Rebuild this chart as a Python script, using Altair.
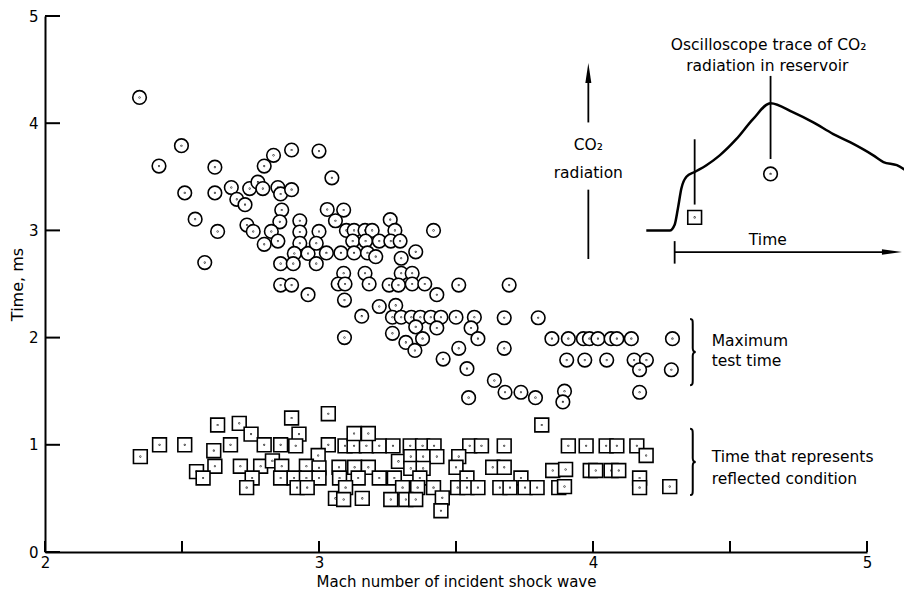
import altair as alt
import pandas as pd

FONT = "DejaVu Sans"

# ---------------- data ----------------
circle_x = [2.345, 2.498, 2.416, 2.51, 2.62, 2.62, 2.548, 2.63, 2.583, 2.68,
            2.70, 2.73, 2.747, 2.777, 2.795, 2.80, 2.834, 2.90, 2.85, 2.86,
            2.90, 2.737, 2.76, 2.864, 2.857, 2.826, 2.80, 2.85, 2.93, 2.93,
            3.0, 2.93, 2.91, 2.96, 2.99, 2.86, 2.906, 2.99, 2.86, 2.90,
            2.96, 3.0, 3.047, 3.03, 3.09, 3.06, 3.10, 3.128, 3.168, 3.194,
            3.26, 3.277, 3.418, 3.123, 3.17, 3.22, 3.262, 3.296, 3.027, 3.08,
            3.128, 3.177, 3.207, 3.353, 3.30, 3.09, 3.168, 3.30, 3.34, 3.07,
            3.095, 3.183, 3.256, 3.29, 3.34, 3.386, 3.51, 3.093, 3.43, 3.22,
            3.28, 3.156, 3.268, 3.30, 3.337, 3.37, 3.408, 3.445, 3.50, 3.567,
            3.353, 3.43, 3.555, 3.58, 3.093, 3.268, 3.317, 3.378, 3.35, 3.51,
            3.453, 3.54, 3.694, 3.676, 3.80, 3.676, 3.64, 3.679, 3.737, 3.79,
            3.896, 3.89, 3.546, 3.85, 3.91, 3.965, 3.987, 4.018, 4.066, 4.087,
            4.14, 4.29, 3.904, 3.97, 4.05, 4.15, 4.195, 4.17, 4.286, 4.17]
circle_y = [4.24, 3.79, 3.60, 3.35, 3.59, 3.35, 3.105, 2.99, 2.70, 3.40,
            3.29, 3.24, 3.39, 3.45, 3.39, 3.60, 3.70, 3.75, 3.40, 3.34,
            3.38, 3.05, 2.99, 3.19, 3.08, 2.99, 2.87, 2.90, 3.09, 2.985,
            2.99, 2.88, 2.785, 2.785, 2.88, 2.69, 2.69, 2.69, 2.49, 2.49,
            2.40, 3.74, 3.49, 3.195, 3.19, 3.09, 3.0, 3.0, 3.0, 3.0,
            3.10, 3.0, 3.0, 2.90, 2.90, 2.90, 2.90, 2.90, 2.79, 2.79,
            2.79, 2.79, 2.755, 2.80, 2.74, 2.60, 2.60, 2.60, 2.60, 2.50,
            2.50, 2.50, 2.49, 2.49, 2.50, 2.50, 2.49, 2.35, 2.40, 2.29,
            2.30, 2.20, 2.19, 2.19, 2.19, 2.19, 2.19, 2.19, 2.19, 2.19,
            2.10, 2.09, 2.09, 1.99, 2.00, 2.04, 1.955, 1.99, 1.88, 1.90,
            1.80, 1.71, 2.49, 2.185, 2.185, 1.90, 1.60, 1.49, 1.49, 1.44,
            1.50, 1.40, 1.44, 1.99, 1.99, 1.99, 1.99, 1.99, 1.99, 1.99,
            1.99, 1.99, 1.79, 1.79, 1.79, 1.79, 1.79, 1.70, 1.70, 1.49]

square_x = [2.348, 2.418, 2.51, 2.63, 2.709, 2.616, 2.677, 2.752, 2.90, 2.927,
            3.034, 2.80, 2.86, 2.915, 3.034, 2.997, 2.62, 2.553, 2.577, 2.713,
            2.787, 2.83, 2.864, 2.954, 3.0, 2.756, 2.736, 2.86, 2.909, 2.954,
            3.0, 2.92, 2.957, 3.06, 3.095, 3.128, 3.173, 3.22, 3.27, 3.333,
            3.378, 3.42, 3.128, 3.18, 3.55, 3.593, 3.676, 3.813, 3.073, 3.13,
            3.18, 3.29, 3.335, 3.38, 3.43, 3.335, 3.38, 3.51, 3.50, 3.634,
            3.676, 3.853, 3.075, 3.143, 3.22, 3.275, 3.368, 3.54, 3.737, 3.097,
            3.305, 3.36, 3.418, 3.506, 3.54, 3.58, 3.66, 3.697, 3.752, 3.796,
            3.875, 3.09, 3.158, 3.262, 3.317, 3.353, 3.45, 3.445, 3.91, 3.975,
            4.048, 4.087, 4.16, 4.194, 3.90, 3.99, 4.01, 4.066, 4.094, 4.17,
            4.17, 3.896, 4.28]
square_y = [0.89, 1.00, 1.00, 1.185, 1.20, 0.945, 1.00, 1.10, 1.25, 1.10,
            1.29, 1.00, 1.00, 0.99, 1.00, 0.90, 0.80, 0.75, 0.69, 0.80,
            0.80, 0.85, 0.80, 0.80, 0.785, 0.69, 0.60, 0.69, 0.69, 0.69,
            0.69, 0.60, 0.60, 0.50, 0.99, 0.99, 0.99, 0.99, 0.99, 0.99,
            0.99, 0.99, 1.105, 1.105, 0.99, 0.99, 0.99, 1.185, 0.79, 0.79,
            0.79, 0.845, 0.89, 0.89, 0.89, 0.78, 0.78, 0.89, 0.79, 0.79,
            0.79, 0.76, 0.69, 0.69, 0.69, 0.69, 0.69, 0.69, 0.69, 0.60,
            0.60, 0.60, 0.60, 0.60, 0.60, 0.60, 0.60, 0.60, 0.60, 0.60,
            0.60, 0.49, 0.50, 0.49, 0.49, 0.49, 0.505, 0.385, 0.99, 0.99,
            0.99, 0.99, 0.99, 0.90, 0.77, 0.76, 0.76, 0.76, 0.76, 0.69,
            0.60, 0.61, 0.61]

# oscilloscope trace inset (in the chart's own units)
trace_x = [4.1945, 4.28, 4.298, 4.310, 4.3225, 4.341, 4.371, 4.414, 4.4625, 4.5236,
           4.584, 4.648, 4.731, 4.804, 4.877, 4.938, 5.023, 5.060, 5.109, 5.165]
trace_y = [2.998, 2.998, 3.053, 3.207, 3.391, 3.500, 3.545, 3.608, 3.700, 3.853,
           4.038, 4.186, 4.100, 4.007, 3.899, 3.823, 3.700, 3.638, 3.608, 3.515]

inset_circle_x, inset_circle_y = [4.648], [3.527]
inset_square_x, inset_square_y = [4.371], [3.121]

# annotation segments
seg_x = [3.983, 3.983, 4.648, 4.371, 4.298, 4.298]
seg_y = [4.007, 3.380, 4.441, 3.850, 2.798, 2.900]
seg_x2 = [3.983, 3.983, 4.648, 4.371, 5.090, 4.298]
seg_y2 = [4.470, 2.733, 3.666, 3.241, 2.798, 2.690]

center_text = ["Oscilloscope trace of  CO\u2082", "radiation in reservoir",
               "CO\u2082", "radiation", "Time"]
center_text_x = [4.641, 4.636, 3.983, 3.983, 4.638]
center_text_y = [4.730, 4.535, 3.795, 3.537, 2.909]

left_text = ["Maximum", "test time", "Time that represents", "reflected condition"]
left_text_x = [4.433, 4.433, 4.433, 4.433]
left_text_y = [1.967, 1.782, 0.886, 0.683]

brace_x = [4.364, 4.364]
brace_y = [1.865, 0.840]

x_ticks = [2, 2.5, 3, 3.5, 4, 4.5, 5]
y_ticks = [0, 1, 2, 3, 4, 5]
x_labels = [2, 3, 4, 5]

# ---------------- chart ----------------
CIRCLE = ("M-1,0A1,1 0 1,0 1,0A1,1 0 1,0 -1,0Z "
          "M-0.04,0A0.04,0.04 0 1,0 0.04,0A0.04,0.04 0 1,0 -0.04,0Z")
SQUARE = ("M-1,-1L1,-1L1,1L-1,1Z "
          "M-0.04,0A0.04,0.04 0 1,0 0.04,0A0.04,0.04 0 1,0 -0.04,0Z")
BRACE = ("M-0.08,-1C0,-1 0,-0.95 0,-0.85L0,-0.12C0,-0.04 0.03,0 0.09,0"
         "C0.03,0 0,0.04 0,0.12L0,0.85C0,0.95 0,1 -0.08,1")
UP = "M0,-1L0.3,1L-0.3,1Z"
RIGHT = "M1,0L-1,-0.28L-1,0.28Z"

PLOT_H = 536

xscale = alt.Scale(domain=[2, 5], nice=False, zero=False)
yscale = alt.Scale(domain=[0, 5], nice=False, zero=False)

x_axis = alt.Axis(values=x_labels, ticks=False, grid=False, domainColor="black",
                  domainWidth=2, labelFont=FONT, labelFontSize=15, labelColor="black",
                  labelPadding=3, labelFlush=False, format="d",
                  title="Mach number of incident shock wave", titleFont=FONT,
                  titleFontSize=15, titleFontWeight="normal", titleColor="black",
                  titleY=34, titleBaseline="alphabetic")
y_axis = alt.Axis(values=y_ticks, ticks=False, grid=False, domainColor="black",
                  domainWidth=2, labelFont=FONT, labelFontSize=15, labelColor="black",
                  labelPadding=7, labelFlush=False, format="d",
                  title="Time, ms", titleFont=FONT, titleFontSize=16,
                  titleFontWeight="normal", titleColor="black",
                  titleX=-28, titleBaseline="middle")


def X(f="x", axis=None):
    if axis is None:
        return alt.X(f"{f}:Q", scale=xscale, title="Mach number of incident shock wave")
    return alt.X(f"{f}:Q", scale=xscale, axis=axis)


def Y(f="y", axis=None):
    if axis is None:
        return alt.Y(f"{f}:Q", scale=yscale, title="Time, ms")
    return alt.Y(f"{f}:Q", scale=yscale, axis=axis)


marker_style = dict(filled=True, fill="white", stroke="black", strokeWidth=1.6,
                    opacity=1)

squares = alt.Chart(pd.DataFrame({"x": square_x, "y": square_y})).mark_point(
    shape=SQUARE, size=190, **marker_style).encode(x=X(axis=x_axis), y=Y(axis=y_axis))

circles = alt.Chart(pd.DataFrame({"x": circle_x, "y": circle_y})).mark_point(
    shape=CIRCLE, size=185, **marker_style).encode(x=X(), y=Y())

inset_c = alt.Chart(pd.DataFrame({"x": inset_circle_x, "y": inset_circle_y})).mark_point(
    shape=CIRCLE, size=185, **marker_style).encode(x=X(), y=Y())
inset_s = alt.Chart(pd.DataFrame({"x": inset_square_x, "y": inset_square_y})).mark_point(
    shape=SQUARE, size=190, **marker_style).encode(x=X(), y=Y())

xt = alt.Chart(pd.DataFrame({"x": x_ticks})).mark_rule(
    color="black", strokeWidth=2).encode(x=X(), y=alt.value(PLOT_H),
                                         y2=alt.value(PLOT_H - 11))
yt = alt.Chart(pd.DataFrame({"y": y_ticks})).mark_rule(
    color="black", strokeWidth=2).encode(y=Y(), x=alt.value(0), x2=alt.value(15))

trace = alt.Chart(pd.DataFrame({"x": trace_x, "y": trace_y})).mark_line(
    color="black", strokeWidth=2.5, interpolate="monotone").encode(
    x=X(), y=Y(), order=alt.Order("x:Q"))

segs = alt.Chart(pd.DataFrame({"x": seg_x, "y": seg_y, "x2": seg_x2, "y2": seg_y2})
                 ).mark_rule(color="black", strokeWidth=1.8).encode(
    x=X(), y=Y(), x2="x2:Q", y2="y2:Q")

up_arrow = alt.Chart(pd.DataFrame({"x": [3.983], "y": [4.469]})).mark_point(
    shape=UP, size=400, filled=True, color="black", opacity=1).encode(x=X(), y=Y())
right_arrow = alt.Chart(pd.DataFrame({"x": [5.091], "y": [2.798]})).mark_point(
    shape=RIGHT, size=400, filled=True, color="black", opacity=1).encode(x=X(), y=Y())

braces = alt.Chart(pd.DataFrame({"x": brace_x, "y": brace_y})).mark_point(
    shape=BRACE, size=4400, filled=False, stroke="black", strokeWidth=2,
    opacity=1).encode(x=X(), y=Y())

ctext = alt.Chart(pd.DataFrame({"x": center_text_x, "y": center_text_y,
                                "t": center_text})).mark_text(
    font=FONT, fontSize=15.5, color="black", align="center", baseline="middle").encode(
    x=X(), y=Y(), text="t:N")
ltext = alt.Chart(pd.DataFrame({"x": left_text_x, "y": left_text_y,
                                "t": left_text})).mark_text(
    font=FONT, fontSize=15.5, color="black", align="left", baseline="middle").encode(
    x=X(), y=Y(), text="t:N")

chart = alt.layer(
    squares, circles, xt, yt, trace, segs, up_arrow, right_arrow, inset_c, inset_s,
    braces, ctext, ltext
).properties(
    width=822, height=PLOT_H,
    autosize=alt.AutoSizeParams(type="none"),
    padding={"left": 37, "right": 37, "top": 8, "bottom": 37},
    background="white",
).configure_view(stroke=None)

chart.save("out.html", embed_options={"renderer": "svg", "actions": False})
